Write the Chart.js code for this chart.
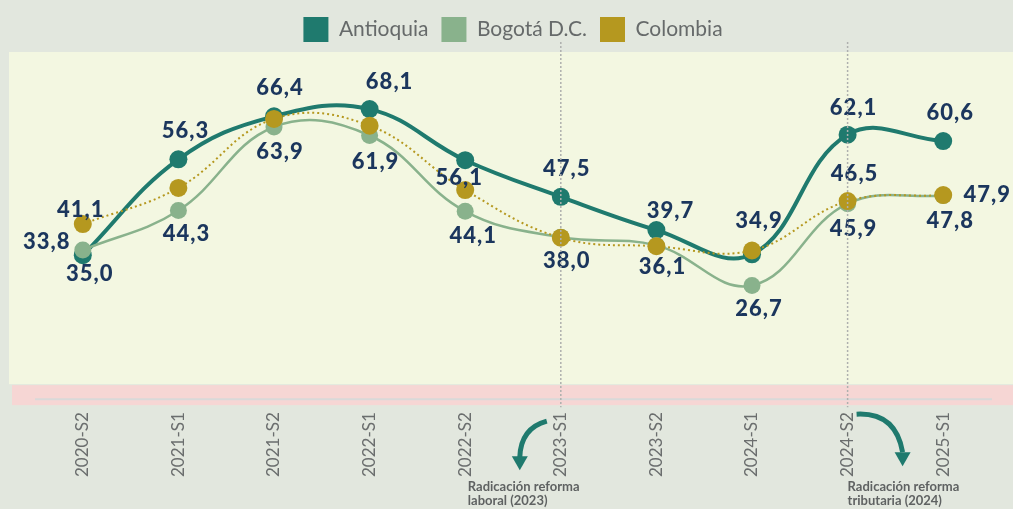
<!DOCTYPE html>
<html>
<head>
<meta charset="utf-8">
<script src="https://cdn.jsdelivr.net/npm/chart.js@4.4.1/dist/chart.umd.min.js"></script>
<style>
  html, body { margin: 0; padding: 0; background: #E2E7DE; }
  #wrap { width: 1013px; height: 509px; position: relative; }
</style>
</head>
<body>
<div id="wrap"><canvas id="chart"></canvas></div>
<script>
// datos del gráfico
const categories = ['2020-S2', '2021-S1', '2021-S2', '2022-S1', '2022-S2', '2023-S1', '2023-S2', '2024-S1', '2024-S2', '2025-S1'];
const antioquia = [33.8, 56.3, 66.4, 68.1, 56.1, 47.5, 39.7, 34.0, 62.1, 60.6];
const bogota = [35.0, 44.3, 63.9, 61.9, 44.1, 38.0, 36.1, 26.7, 45.9, 47.8];
const colombia = [41.1, 49.6, 65.8, 64.2, 49.1, 37.9, 35.9, 34.9, 46.5, 47.9];

// etiquetas de valores: desplazamiento [dx, dy] respecto al punto (null = sin etiqueta)
const labelOffsets = [
  [[-36, -13], [7, -28], [6, -28], [20, -27], [-6, 18], [6, -28], [14, -19], null, [6, -27], [7, -28]],
  [[7, 24], [8, 23], [6, 25], [6, 26], [8, 25], [6, 24], [6, 22], [7, 23], [6, 25], [7, 25]],
  [[-2, -14], null, null, null, null, null, null, [7, -30], [7, -27], [44, 0]]
];

// anotaciones bajo el eje
const notes = [
  { at: '2023-S1', textDx: -93, lines: ['Radicación reforma', 'laboral (2023)'] },
  { at: '2024-S2', textDx: 0, lines: ['Radicación reforma', 'tributaria (2024)'] }
];

const fmt = v => v.toFixed(1).replace('.', ',');

// fondo amarillo + franja rosada
const panelsPlugin = {
  id: 'panels',
  beforeDraw(chart) {
    const { ctx, chartArea: a, width, height } = chart;
    const y0 = chart.scales.y.getPixelForValue(0);
    ctx.save();
    ctx.fillStyle = '#E2E7DE';
    ctx.fillRect(0, 0, width, height);
    ctx.fillStyle = '#F3F7E1';
    ctx.fillRect(a.left - 26, 52, width, y0 - 15 - 52);
    ctx.fillStyle = '#F6D6D4';
    ctx.fillRect(a.left - 23, y0 - 14, width, 20);
    ctx.strokeStyle = '#D9D9D9';
    ctx.lineWidth = 2;
    ctx.beginPath();
    ctx.moveTo(a.left, y0);
    ctx.lineTo(a.right + 1, y0);
    ctx.stroke();
    ctx.restore();
  }
};

// etiquetas de valores
const valueLabels = {
  id: 'valueLabels',
  afterDatasetsDraw(chart) {
    const ctx = chart.ctx;
    ctx.save();
    ctx.font = '900 22px Lato';
    ctx.letterSpacing = '1px';
    ctx.fillStyle = '#1B365D';
    ctx.textAlign = 'center';
    ctx.textBaseline = 'middle';
    chart.data.datasets.forEach((ds, di) => {
      const meta = chart.getDatasetMeta(di);
      meta.data.forEach((pt, i) => {
        const off = labelOffsets[di][i];
        if (!off) return;
        ctx.fillText(fmt(ds.data[i]), pt.x + off[0], pt.y + off[1]);
      });
    });
    ctx.restore();
  }
};

// líneas punteadas, flechas y textos
const notesPlugin = {
  id: 'notes',
  afterDraw(chart) {
    const ctx = chart.ctx;
    const xs = chart.scales.x;
    const y0 = chart.scales.y.getPixelForValue(0);
    ctx.save();
    notes.forEach((n, k) => {
      const x = xs.getPixelForValue(categories.indexOf(n.at));
      ctx.strokeStyle = '#AEB0AE';
      ctx.lineWidth = 1.5;
      ctx.setLineDash([2, 2]);
      ctx.beginPath();
      ctx.moveTo(x, 42);
      ctx.lineTo(x, y0 + 8);
      ctx.stroke();
      ctx.setLineDash([]);

      ctx.strokeStyle = '#1F7A6E';
      ctx.fillStyle = '#1F7A6E';
      ctx.lineWidth = 5;
      ctx.beginPath();
      if (k === 0) {
        ctx.moveTo(x - 14, y0 + 22);
        ctx.quadraticCurveTo(x - 40, y0 + 29, x - 41, y0 + 58);
      } else {
        ctx.moveTo(x + 9, y0 + 15);
        ctx.quadraticCurveTo(x + 48, y0 + 13, x + 55, y0 + 53);
      }
      ctx.stroke();
      const hx = k === 0 ? x - 41 : x + 55;
      const hy = k === 0 ? y0 + 57 : y0 + 53;
      ctx.beginPath();
      ctx.moveTo(hx - 8, hy);
      ctx.lineTo(hx + 8, hy);
      ctx.lineTo(hx, hy + 14);
      ctx.closePath();
      ctx.fill();

      ctx.font = 'bold 13px Lato';
      ctx.fillStyle = '#5F6262';
      ctx.textAlign = 'left';
      ctx.textBaseline = 'alphabetic';
      n.lines.forEach((t, j) => ctx.fillText(t, x + n.textDx, 491 + j * 14));
    });
    ctx.restore();
  }
};

const ctx = document.getElementById('chart').getContext('2d');
new Chart(ctx, {
  type: 'line',
  data: {
    labels: categories,
    datasets: [
      {
        label: 'Antioquia',
        data: antioquia,
        borderColor: '#1F7A6E',
        backgroundColor: '#1F7A6E',
        borderWidth: 4,
        pointRadius: 9,
        pointHoverRadius: 9,
        pointBorderWidth: 0,
        tension: 0.4,
        order: 2
      },
      {
        label: 'Bogotá D.C.',
        data: bogota,
        borderColor: '#89B28C',
        backgroundColor: '#89B28C',
        borderWidth: 2.5,
        pointRadius: 8.5,
        pointHoverRadius: 8.5,
        pointBorderWidth: 0,
        tension: 0.4,
        order: 1
      },
      {
        label: 'Colombia',
        data: colombia,
        borderColor: '#B5981F',
        backgroundColor: '#B5981F',
        borderWidth: 2,
        borderDash: [2, 3],
        pointRadius: 9,
        pointHoverRadius: 9,
        pointBorderWidth: 0,
        tension: 0.4,
        order: 0
      }
    ]
  },
  options: {
    responsive: true,
    maintainAspectRatio: false,
    animation: false,
    layout: {
      padding: { left: 35, right: 22, top: 4, bottom: 27 }
    },
    plugins: {
      legend: {
        position: 'top',
        labels: {
          boxWidth: 25,
          boxHeight: 25,
          padding: 13,
          color: '#666A6A',
          font: { family: 'Lato', size: 21 },
          sort: (a, b) => a.datasetIndex - b.datasetIndex,
          generateLabels(chart) {
            const items = Chart.defaults.plugins.legend.labels.generateLabels(chart);
            items.forEach(it => { it.lineDash = []; it.lineWidth = 0; it.strokeStyle = it.fillStyle; });
            return items;
          }
        }
      },
      tooltip: { enabled: false }
    },
    scales: {
      x: {
        offset: true,
        grid: { display: false },
        border: { display: false },
        ticks: {
          minRotation: 90,
          maxRotation: 90,
          padding: 5,
          color: '#6B6E6E',
          font: { family: 'Lato', size: 17 }
        }
      },
      y: {
        display: false,
        min: 0,
        max: 81.5
      }
    }
  },
  plugins: [panelsPlugin, valueLabels, notesPlugin]
});
</script>
</body>
</html>
